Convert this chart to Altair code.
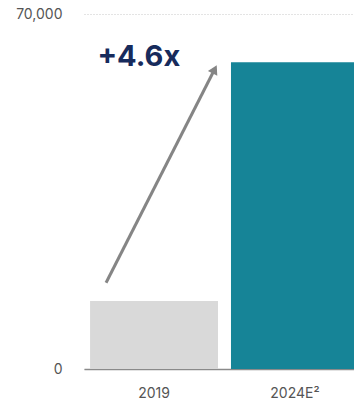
import altair as alt
import pandas as pd

# Data
categories = ["2019", "2024E²"]
values = [13400, 60500]
bar_colors = ["#d9d9d9", "#168497"]
y_ticks = [0, 70000]

# Annotation (in data units: x in band-steps 0..2, y in value units)
arrow_x = [0.157, 0.930]
arrow_y = [17000, 59100]
label_text = ["+4.6x"]
label_x = [0.39]
label_y = [61600]

bars_df = pd.DataFrame({"cat": categories, "value": values, "color": bar_colors})
arrow_df = pd.DataFrame({"x": [arrow_x[0]], "y": [arrow_y[0]], "x2": [arrow_x[1]], "y2": [arrow_y[1]]})
head_df = pd.DataFrame({"x": [arrow_x[1]], "y": [arrow_y[1]]})
label_df = pd.DataFrame({"x": label_x, "y": label_y, "t": label_text})

FONT = "Inter"

yscale = alt.Scale(domain=[0, 70000], nice=False)
yaxis = alt.Axis(values=y_ticks, labelExpr="format(datum.value, ',')", ticks=False, domain=False,
                 labelPadding=22, labelFontSize=14, labelColor="#555555",
                 labelFont=FONT, gridDash=[1, 2], gridColor="#c8c8c8", title=None)
xq = alt.Scale(domain=[0, 2], nice=False, zero=False, range=[0, 281])

bars = alt.Chart(bars_df).mark_bar().encode(
    x=alt.X("cat:N", sort=categories, title=None,
            scale=alt.Scale(paddingInner=0.092, paddingOuter=0.043, range=[0, 281]),
            axis=alt.Axis(labelAngle=0, ticks=False, labelPadding=17, labelFontSize=14,
                          labelColor="#555555", labelFont=FONT, domainColor="#8a8a8a",
                          domainWidth=1.5)),
    y=alt.Y("value:Q", scale=yscale, title=None, axis=yaxis),
    color=alt.Color("color:N", scale=None),
)

arrow = alt.Chart(arrow_df).mark_rule(color="#858585", strokeWidth=3).encode(
    x=alt.X("x:Q", scale=xq, axis=None),
    x2="x2:Q",
    y=alt.Y("y:Q", scale=yscale, title=None, axis=yaxis),
    y2="y2:Q",
)

head = alt.Chart(head_df).mark_point(shape="triangle-up", filled=True, color="#858585",
                                     size=110, angle=27, opacity=1).encode(
    x=alt.X("x:Q", scale=xq, axis=None),
    y=alt.Y("y:Q", scale=yscale, title=None, axis=yaxis),
)

label = alt.Chart(label_df).mark_text(font=FONT, fontWeight="bold", fontSize=29,
                                      color="#172b5c", baseline="middle", align="center").encode(
    x=alt.X("x:Q", scale=xq, axis=None),
    y=alt.Y("y:Q", scale=yscale, title=None, axis=yaxis),
    text="t:N",
)

chart = alt.layer(bars, arrow, head, label).resolve_scale(x="independent").properties(
    width=270, height=355,
    autosize=alt.AutoSizeParams(type="none"),
    padding={"left": 84, "top": 14, "right": 0, "bottom": 35},
).configure_view(stroke=None)

chart.save("out.html", embed_options={"renderer": "svg", "actions": False})
